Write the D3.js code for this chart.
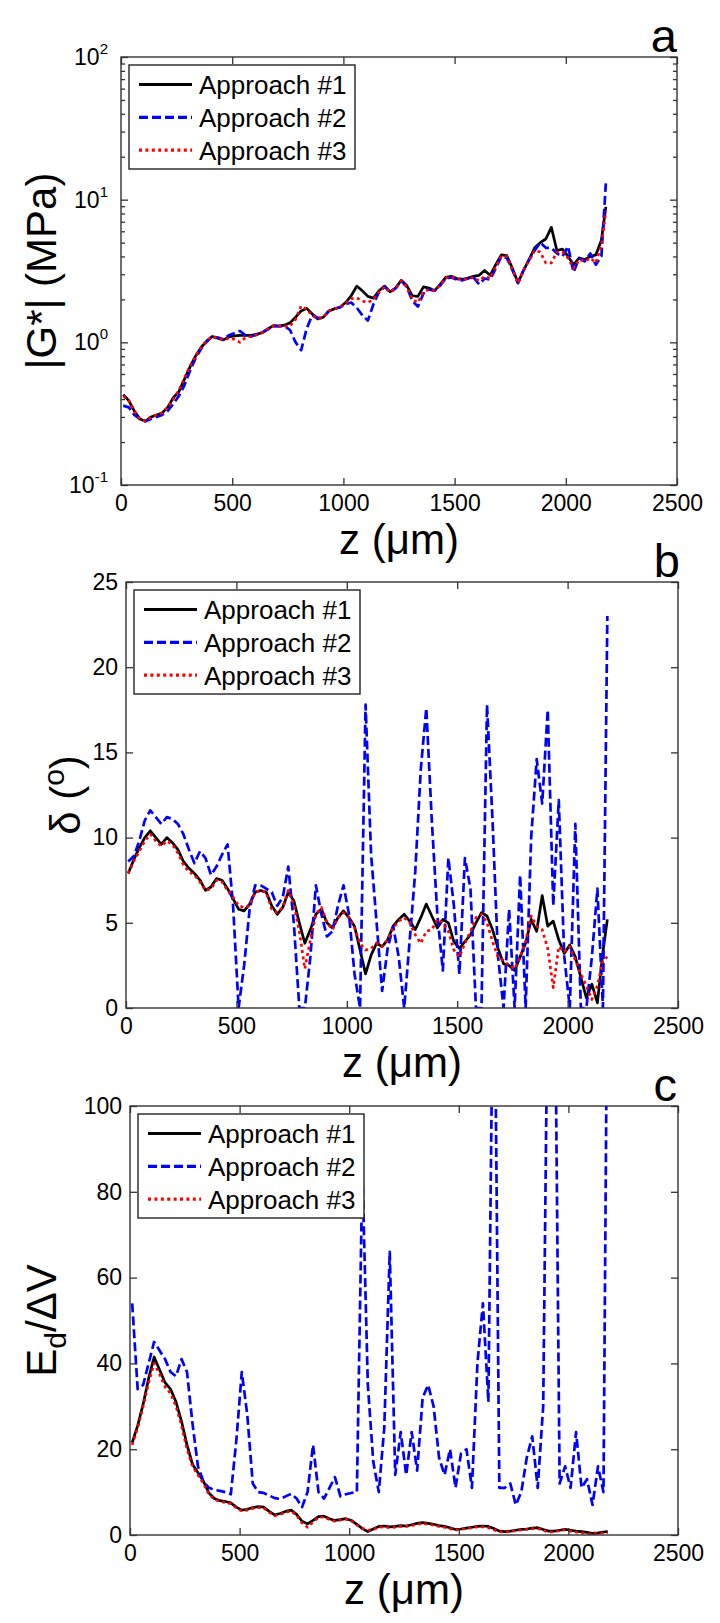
<!DOCTYPE html>
<html><head><meta charset="utf-8">
<script src="https://cdn.jsdelivr.net/npm/d3@7/dist/d3.min.js"></script>
<style>
body{margin:0;background:#fff}
svg{display:block}
text{font-family:"Liberation Sans",Arial,sans-serif;fill:#000}
</style>
</head><body>
<svg id="fig" width="720" height="1623"></svg>
<script>
// ---------- DATA ----------
const zGrid = [10,35,60,85,110,135,160,185,210,235,
  260,285,310,335,360,385,410,435,460,485,
  510,535,560,585,610,635,660,685,710,735,
  760,785,810,835,860,885,910,935,960,985,
  1010,1035,1060,1085,1110,1135,1160,1185,1210,1235,
  1260,1285,1310,1335,1360,1385,1410,1435,1460,1485,
  1510,1535,1560,1585,1610,1635,1660,1685,1710,1735,
  1760,1785,1810,1835,1860,1885,1910,1935,1960,1985,
  2010,2035,2060,2085,2110,2135,2160,2180];

const seriesNames = ["Approach #1","Approach #2","Approach #3"];
const xTicks = [0,500,1000,1500,2000,2500];

// panel a : |G*| (MPa)
const gA1 = [0.43,0.39,0.33,0.29,0.28,0.30,0.31,0.32,0.35,0.41,
  0.45,0.55,0.67,0.80,0.92,1.02,1.10,1.07,1.04,1.09,
  1.11,1.12,1.12,1.12,1.14,1.17,1.24,1.31,1.30,1.32,
  1.37,1.50,1.66,1.73,1.58,1.46,1.50,1.66,1.72,1.76,
  1.90,2.12,2.48,2.30,2.10,2.04,2.30,2.48,2.26,2.40,
  2.72,2.50,2.12,2.10,2.45,2.40,2.30,2.55,2.85,2.90,
  2.80,2.77,2.82,2.90,2.95,3.19,2.95,3.50,4.10,4.05,
  3.30,2.62,3.20,3.80,4.60,5.00,5.30,6.40,4.40,4.50,
  4.00,3.50,3.90,3.80,4.00,4.10,5.20,8.90];
const gA2 = [0.36,0.35,0.31,0.29,0.28,0.29,0.30,0.31,0.33,0.37,
  0.42,0.50,0.63,0.77,0.90,1.01,1.10,1.08,1.05,1.12,
  1.16,1.20,1.12,1.10,1.13,1.17,1.23,1.30,1.30,1.30,
  1.22,1.00,0.88,1.25,1.55,1.48,1.50,1.66,1.72,1.76,
  1.85,1.90,1.75,1.55,1.42,1.85,2.25,2.45,2.25,2.40,
  2.70,2.45,1.95,1.78,2.20,2.35,2.30,2.50,2.80,2.85,
  2.75,2.72,2.80,2.85,2.55,2.80,2.75,3.30,4.00,3.90,
  3.20,2.60,3.20,3.80,4.40,5.00,4.60,4.60,4.20,4.00,
  4.70,3.10,3.90,3.70,4.20,3.50,4.00,13.0];
const gA3 = [0.42,0.39,0.33,0.29,0.28,0.30,0.31,0.32,0.35,0.40,
  0.46,0.56,0.68,0.80,0.92,1.02,1.10,1.07,1.04,1.07,
  1.05,1.00,1.08,1.10,1.13,1.17,1.24,1.30,1.30,1.30,
  1.30,1.45,1.80,1.70,1.55,1.46,1.50,1.66,1.72,1.76,
  1.88,2.02,2.05,1.95,1.90,2.00,2.25,2.45,2.24,2.38,
  2.70,2.45,2.00,1.90,2.25,2.35,2.30,2.52,2.82,2.88,
  2.78,2.75,2.80,2.85,2.70,2.90,2.80,3.40,4.00,4.00,
  3.25,2.60,3.20,3.75,4.40,4.30,3.60,3.60,4.30,4.30,
  3.90,3.30,3.80,3.70,3.90,3.60,4.80,8.30];
const yTicksA = [0.1,1,10,100];

// panel b : delta (deg)
const dB1 = [7.9,8.7,9.4,10.0,10.4,10.0,9.6,10.0,9.7,9.3,
  8.6,8.2,7.9,7.5,6.9,7.1,7.6,7.5,7.0,6.4,
  5.8,5.7,6.1,6.8,6.9,6.8,6.0,5.5,5.9,6.8,
  6.3,5.0,3.8,4.6,5.5,5.8,5.0,4.7,5.3,5.7,
  5.3,4.8,3.4,2.0,3.1,3.8,3.6,4.0,4.8,5.2,
  5.5,5.1,4.6,5.3,6.1,5.4,4.7,5.2,5.0,3.9,
  3.5,3.9,4.3,5.0,5.6,5.4,4.6,3.5,2.6,2.5,
  2.2,3.0,3.8,5.2,4.5,6.6,4.8,5.1,4.0,3.2,
  3.7,3.0,1.8,0.6,1.4,0.3,3.3,5.2];
const dB2 = [8.6,8.9,9.8,11.0,11.6,11.2,10.8,11.2,11.1,10.8,
  10.2,9.3,8.5,9.2,8.8,7.8,8.3,9.0,9.6,6.0,
  0.0,2.5,5.8,7.2,7.2,7.0,6.8,6.0,6.5,8.3,
  5.0,0.0,0.0,3.0,7.2,5.5,4.2,4.5,6.0,7.2,
  5.5,2.0,0.0,17.8,9.0,5.0,1.0,3.5,4.8,3.0,
  0.0,4.0,8.0,14.0,17.6,11.0,5.5,2.2,8.8,6.0,
  2.0,8.8,7.0,0.0,0.0,17.8,11.0,3.0,0.0,5.8,
  0.0,7.8,0.0,10.0,14.6,12.0,17.5,6.0,12.2,3.0,
  0.0,10.8,0.0,0.0,3.0,7.0,0.0,23.0];
const dB3 = [7.9,8.6,9.2,9.8,10.2,9.8,9.5,9.8,9.6,9.1,
  8.4,8.0,7.8,7.4,6.9,7.0,7.5,7.4,6.9,6.5,
  6.0,5.9,6.0,6.8,6.9,6.8,5.8,5.6,5.9,6.9,
  6.1,4.5,2.3,4.0,5.5,5.9,5.0,4.6,5.3,5.6,
  5.3,4.7,3.8,3.4,3.5,3.8,3.6,4.0,4.7,5.1,
  5.3,5.0,4.3,3.8,4.5,4.6,5.2,5.0,4.5,3.4,
  3.0,3.8,4.5,5.3,5.5,5.0,3.9,3.0,2.8,2.5,
  2.3,3.0,3.9,5.4,4.8,4.6,3.5,1.2,3.6,3.3,
  3.6,2.8,2.0,1.3,0.5,1.3,2.8,3.0];
const yTicksB = [0,5,10,15,20,25];

// panel c : Ed/dV
const eC1 = [21.5,25.5,30.5,36.5,41.5,38.5,35.5,34.0,31.0,26.5,
  21.0,16.5,14.5,12.5,9.8,8.5,8.0,7.8,7.5,6.5,
  5.8,6.0,6.4,6.6,6.5,5.5,4.7,5.0,5.5,5.8,
  4.8,3.2,2.6,3.4,4.3,4.4,3.8,3.4,3.6,3.8,
  3.4,2.5,1.5,0.8,1.4,2.0,2.1,1.9,2.0,2.2,
  2.1,2.4,2.7,2.9,2.7,2.5,2.2,2.0,1.7,1.3,
  1.4,1.6,1.8,2.0,2.1,2.0,1.5,0.9,0.8,0.9,
  1.1,1.3,1.4,1.6,1.7,1.3,0.9,0.9,1.1,1.3,
  1.1,0.9,0.8,0.6,0.4,0.5,0.7,0.8];
const eC2 = [54,34,35,40,45,43,41,38,37,41,
  38,26,16,12.5,11,10.5,10.3,10.0,9.5,22,
  38,28,12,10,9.8,9.2,8.6,8.4,9.0,9.6,
  8.5,6.5,10,21,10,8.5,11,13.5,9,9.5,
  9.8,10,85,35,17,10,25,66,14,24,
  14,24,15,32,35,30,18,14,20,11,
  19,20,11,40,54,31,150,11,11,12,
  7,10,18,23,11,30,150,150,12,16,
  11,24,11,13,7,16,10,150];
const eC3 = [21.0,25.0,30.0,35.5,40.0,37.5,34.5,33.0,30.0,25.5,
  20.0,16.0,14.0,12.0,9.5,8.3,7.8,7.6,7.3,6.3,
  5.6,5.8,6.2,6.4,6.3,5.3,4.5,4.8,5.3,5.6,
  4.6,2.8,1.8,3.0,4.1,4.2,3.6,3.2,3.5,3.7,
  3.3,2.3,1.6,1.1,1.3,1.8,1.9,1.7,1.8,2.0,
  2.0,2.2,2.5,2.7,2.5,2.3,2.0,1.8,1.5,1.2,
  1.3,1.5,1.7,1.9,1.9,1.7,1.2,0.8,0.7,0.8,
  1.0,1.2,1.3,1.5,1.5,1.1,0.6,0.8,1.0,1.2,
  0.9,0.7,0.5,0.3,0.2,0.4,0.5,0.6];
const yTicksC = [0,20,40,60,80,100];

// ---------- STYLE ----------
const colors = ["#000000","#0000ff","#ff0000"];
const dashes = [null,"9,4","3,3.4"];
const lineW = 2.7;
const frameColor = "#333";

const svg = d3.select("#fig");

const panels = [
  {id:"a", letter:"a", left:121, right:677, top:57, bottom:485, log:true,
   y:d3.scaleLog().domain([0.1,100]), yTicks:yTicksA, series:[gA1,gA2,gA3],
   ylabelX:42, letterX:677, letterY:52},
  {id:"b", letter:"b", left:126, right:678, top:582, bottom:1008, log:false,
   y:d3.scaleLinear().domain([0,25]), yTicks:yTicksB, series:[dB1,dB2,dB3],
   ylabelX:66, letterX:680, letterY:577},
  {id:"c", letter:"c", left:130, right:678, top:1106, bottom:1535, log:false,
   y:d3.scaleLinear().domain([0,100]), yTicks:yTicksC, series:[eC1,eC2,eC3],
   ylabelX:42, letterX:677, letterY:1101}
];

panels.forEach(p => {
  const g = svg.append("g");
  const x = d3.scaleLinear().domain([0,2500]).range([p.left,p.right]);
  const y = p.y.range([p.bottom,p.top]);

  g.append("clipPath").attr("id","clip-"+p.id)
    .append("rect").attr("x",p.left).attr("y",p.top)
    .attr("width",p.right-p.left).attr("height",p.bottom-p.top);

  // data lines
  const line = d3.line().x((d,i)=>x(zGrid[i])).y(d=>y(d));
  const lg = g.append("g").attr("clip-path",`url(#clip-${p.id})`);
  p.series.forEach((s,k) => {
    lg.append("path").datum(s).attr("d",line)
      .attr("fill","none").attr("stroke",colors[k]).attr("stroke-width",lineW)
      .attr("stroke-linejoin","round")
      .attr("stroke-dasharray",dashes[k]);
  });

  // axes
  const styleAxis = sel => {
    sel.select(".domain").remove();
    sel.selectAll("line").attr("stroke",frameColor).attr("stroke-width",1.3);
    sel.selectAll("text").attr("font-family",'"Liberation Sans",Arial,sans-serif')
      .attr("font-size",23).attr("fill","#000");
  };
  g.append("g").attr("transform",`translate(0,${p.bottom})`)
    .call(d3.axisBottom(x).tickValues(xTicks).tickSizeInner(-7).tickSizeOuter(0)
      .tickPadding(10).tickFormat(d3.format("d"))).call(styleAxis);
  g.append("g").attr("transform",`translate(0,${p.top})`)
    .call(d3.axisTop(x).tickValues(xTicks).tickSizeInner(-7).tickSizeOuter(0)
      .tickFormat("")).call(styleAxis);

  if (p.log) {
    const minor = y.ticks().filter(v => !p.yTicks.some(t => Math.abs(t-v) < 1e-9));
    [[d3.axisLeft, p.left],[d3.axisRight, p.right]].forEach(([ax,pos]) => {
      g.append("g").attr("transform",`translate(${pos},0)`)
        .call(ax(y).tickValues(p.yTicks).tickSizeInner(-7).tickSizeOuter(0).tickFormat(""))
        .call(styleAxis);
      g.append("g").attr("transform",`translate(${pos},0)`)
        .call(ax(y).tickValues(minor).tickSizeInner(-4).tickSizeOuter(0).tickFormat(""))
        .call(styleAxis);
    });
    p.yTicks.forEach(t => {
      const e = Math.round(Math.log10(t));
      const tx = g.append("text").attr("x",p.left-13).attr("y",y(t)+8)
        .attr("text-anchor","end").attr("font-size",23);
      tx.append("tspan").text("10");
      tx.append("tspan").attr("dy",-11).attr("font-size",15).text(String(e));
    });
  } else {
    g.append("g").attr("transform",`translate(${p.left},0)`)
      .call(d3.axisLeft(y).tickValues(p.yTicks).tickSizeInner(-7).tickSizeOuter(0)
        .tickPadding(8)).call(styleAxis);
    g.append("g").attr("transform",`translate(${p.right},0)`)
      .call(d3.axisRight(y).tickValues(p.yTicks).tickSizeInner(-7).tickSizeOuter(0)
        .tickFormat("")).call(styleAxis);
  }

  // frame
  g.append("rect").attr("x",p.left).attr("y",p.top)
    .attr("width",p.right-p.left).attr("height",p.bottom-p.top)
    .attr("fill","none").attr("stroke",frameColor).attr("stroke-width",1.4);

  // legend
  const L = {x:p.left+8, y:p.top+8, w:226, h:104};
  const leg = g.append("g");
  leg.append("rect").attr("x",L.x).attr("y",L.y).attr("width",L.w).attr("height",L.h)
    .attr("fill","#fff").attr("stroke","#222").attr("stroke-width",1.4);
  seriesNames.forEach((n,k) => {
    const cy = L.y + 19.5 + k*32.8;
    leg.append("line").attr("x1",L.x+10).attr("x2",L.x+63).attr("y1",cy).attr("y2",cy)
      .attr("stroke",colors[k]).attr("stroke-width",lineW+0.5)
      .attr("stroke-dasharray",dashes[k]);
    leg.append("text").attr("x",L.x+70).attr("y",cy+9.5).attr("font-size",26).text(n);
  });

  // x label
  const xl = g.append("text").attr("x",(p.left+p.right)/2).attr("y",p.bottom+69)
    .attr("text-anchor","middle").attr("font-size",42);
  xl.append("tspan").text("z (");
  xl.append("tspan").text("\u03bc");
  xl.append("tspan").text("m)");

  // y label
  const cyMid = (p.top+p.bottom)/2;
  const yl = g.append("text")
    .attr("transform",`translate(${p.ylabelX+14},${cyMid}) rotate(-90)`)
    .attr("text-anchor","middle").attr("font-size",42);
  if (p.id === "a") {
    yl.text("|G*| (MPa)");
  } else if (p.id === "b") {
    yl.append("tspan").text("\u03b4 (");
    yl.append("tspan").attr("dy",-16).attr("font-size",30).text("o");
    yl.append("tspan").attr("dy",16).text(")");
  } else {
    yl.append("tspan").text("E");
    yl.append("tspan").attr("dy",10).attr("font-size",30).text("d");
    yl.append("tspan").attr("dy",-10).text("/\u0394V");
  }

  // panel letter
  g.append("text").attr("x",p.letterX).attr("y",p.letterY)
    .attr("text-anchor","end").attr("font-size",47).text(p.letter);
});
</script>
</body></html>
